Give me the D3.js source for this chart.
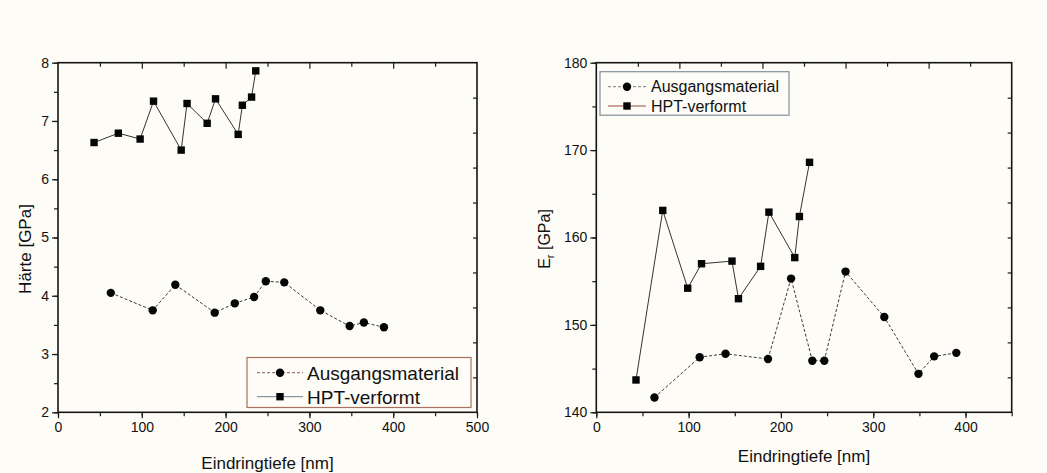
<!DOCTYPE html>
<html>
<head>
<meta charset="utf-8">
<script src="https://cdn.jsdelivr.net/npm/d3@7"></script>
<style>
  body { margin: 0; background: #fefcf6; }
  svg { display: block; font-family: "Liberation Sans", Arial, sans-serif; }
</style>
</head>
<body>
<div id="chart"></div>
<script>
// data
// Härte (left panel)
let depthAusL = [63, 113, 140, 187, 211, 234, 248, 270, 313, 348, 365, 389];
let haerteAus = [4.05, 3.75, 4.19, 3.71, 3.87, 3.98, 4.25, 4.23, 3.75, 3.48, 3.54, 3.46];
let depthHptL = [43, 72, 98, 114, 147, 154, 178, 188, 215, 220, 231, 236];
let haerteHpt = [6.63, 6.79, 6.69, 7.34, 6.50, 7.30, 6.96, 7.38, 6.77, 7.27, 7.41, 7.86];

// E_r (right panel)
let depthAusR = [63, 112, 140, 186, 211, 234, 247, 270, 312, 349, 366, 390];
let erAus = [141.7, 146.3, 146.7, 146.1, 155.3, 145.9, 145.9, 156.1, 150.9, 144.4, 146.4, 146.8];
let depthHptR = [43, 72, 99, 114, 147, 154, 178, 187, 215, 220, 231];
let erHpt = [143.7, 163.1, 154.2, 157.0, 157.3, 153.0, 156.7, 162.9, 157.7, 162.4, 168.6];

let seriesNames = ["Ausgangsmaterial", "HPT-verformt"];
let xTitle = "Eindringtiefe [nm]";

let svgWidth = 1047;
let svgHeight = 473;

let svg = d3.select("#chart")
    .append("svg")
    .attr("width", svgWidth)
    .attr("height", svgHeight);

svg.append("rect")
    .attr("width", svgWidth)
    .attr("height", svgHeight)
    .attr("fill", "#fefcf6");

// draws one Origin-style panel
function drawPanel(opt) {
    let w = opt.x1 - opt.x0;
    let h = opt.y1 - opt.y0;
    let g = svg.append("g").attr("transform", `translate(${opt.x0}, ${opt.y0})`);

    let x = d3.scaleLinear().domain(opt.xDomain).range([0, w]);
    let y = d3.scaleLinear().domain(opt.yDomain).range([h, 0]);

    // minor ticks (no labels)
    let xMinor = d3.range(opt.xDomain[0], opt.xDomain[1] + 0.001, opt.xStep / 2);
    let yMinor = d3.range(opt.yDomain[0], opt.yDomain[1] + 0.001, opt.yStep / 2);

    g.append("g")
        .attr("transform", `translate(0, ${h})`)
        .call(d3.axisBottom(x).tickValues(xMinor).tickSize(4).tickFormat(""));
    g.append("g")
        .call(d3.axisLeft(y).tickValues(yMinor).tickSize(4).tickFormat(""));

    // major ticks
    let xMajor = d3.range(opt.xDomain[0], opt.xTickMax + 0.001, opt.xStep);
    let yMajor = d3.range(opt.yDomain[0], opt.yDomain[1] + 0.001, opt.yStep);

    g.append("g")
        .attr("class", "bottom")
        .attr("transform", `translate(0, ${h})`)
        .call(d3.axisBottom(x).tickValues(xMajor).tickSize(6).tickPadding(4).tickFormat(d3.format("d")));
    g.append("g")
        .attr("class", "left")
        .call(d3.axisLeft(y).tickValues(yMajor).tickSize(6).tickPadding(3).tickFormat(d3.format("d")));

    // top axis: 10 intervals, inward ticks
    let xTop = d3.scaleLinear().domain([0, 500]).range([0, w]);
    g.append("g")
        .call(d3.axisBottom(xTop).tickValues(d3.range(50, 500, 100)).tickSize(4).tickFormat(""));
    g.append("g")
        .call(d3.axisBottom(xTop).tickValues(d3.range(100, 500, 100)).tickSize(6).tickFormat(""));

    // right axis: 10 intervals, inward ticks
    let yRight = d3.scaleLinear().domain([0, 10]).range([h, 0]);
    g.append("g")
        .attr("transform", `translate(${w}, 0)`)
        .call(d3.axisLeft(yRight).tickValues(d3.range(1, 10)).tickSize(4).tickFormat(""));

    g.selectAll(".domain").remove();
    g.selectAll(".tick line").attr("stroke", "#1a1a1a").attr("stroke-width", 1.2);
    g.selectAll(".tick text")
        .attr("fill", "#111")
        .style("font-size", "14px");

    // frame
    g.append("rect")
        .attr("width", w)
        .attr("height", h)
        .attr("fill", "none")
        .attr("stroke", "#141414")
        .attr("stroke-width", 1.6);

    // data
    let line = d3.line().x(d => x(d[0])).y(d => y(d[1]));
    let aus = d3.zip(opt.ausX, opt.ausY);
    let hpt = d3.zip(opt.hptX, opt.hptY);

    g.append("path")
        .datum(aus)
        .attr("d", line)
        .attr("fill", "none")
        .attr("stroke", "#3a3a3a")
        .attr("stroke-width", 1)
        .attr("stroke-dasharray", "3,2");
    g.append("path")
        .datum(hpt)
        .attr("d", line)
        .attr("fill", "none")
        .attr("stroke", "#333")
        .attr("stroke-width", 1);

    g.selectAll(".dot")
        .data(aus)
        .enter()
        .append("circle")
        .attr("cx", d => x(d[0]))
        .attr("cy", d => y(d[1]))
        .attr("r", 4.2)
        .attr("fill", "#050505");
    let s = 7.4;
    g.selectAll(".sq")
        .data(hpt)
        .enter()
        .append("rect")
        .attr("x", d => x(d[0]) - s / 2)
        .attr("y", d => y(d[1]) - s / 2)
        .attr("width", s)
        .attr("height", s)
        .attr("fill", "#050505");

    // x title
    svg.append("text")
        .attr("x", opt.x0 + w / 2)
        .attr("y", opt.xTitleY)
        .attr("text-anchor", "middle")
        .attr("fill", "#111")
        .style("font-size", "17px")
        .text(xTitle);

    // legend
    let L = opt.legend;
    let lg = svg.append("g");
    lg.append("rect")
        .attr("x", L.x).attr("y", L.y)
        .attr("width", L.w).attr("height", L.h)
        .attr("fill", "#fefcf6")
        .attr("stroke", L.border)
        .attr("stroke-width", 1.2);
    L.rows.forEach(function(ry, i) {
        lg.append("line")
            .attr("x1", L.lx0).attr("x2", L.lx1)
            .attr("y1", ry).attr("y2", ry)
            .attr("stroke", L.lineColors[i])
            .attr("stroke-width", 1)
            .attr("stroke-dasharray", i == 0 ? "3,2" : null);
        let mx = (L.lx0 + L.lx1) / 2;
        if (i == 0) {
            lg.append("circle").attr("cx", mx).attr("cy", ry).attr("r", 4.2).attr("fill", "#050505");
        } else {
            lg.append("rect").attr("x", mx - 3.7).attr("y", ry - 3.7)
                .attr("width", 7.4).attr("height", 7.4).attr("fill", "#050505");
        }
        lg.append("text")
            .attr("x", L.tx)
            .attr("y", ry)
            .attr("dy", "0.36em")
            .attr("fill", "#111")
            .style("font-size", L.fontSize + "px")
            .text(seriesNames[i]);
    });
}

drawPanel({
    x0: 58, x1: 477, y0: 62.7, y1: 412.3,
    xDomain: [0, 500], xTickMax: 500, xStep: 100,
    yDomain: [2, 8], yStep: 1,
    ausX: depthAusL, ausY: haerteAus,
    hptX: depthHptL, hptY: haerteHpt,
    xTitleY: 469,
    legend: {
        x: 247, y: 357.5, w: 224, h: 50,
        rows: [372.7, 396.7],
        lx0: 257, lx1: 303, tx: 307,
        fontSize: 19,
        border: "#a8705e",
        lineColors: ["#8a5a50", "#6a7f95"]
    }
});

drawPanel({
    x0: 596.3, x1: 1011.7, y0: 62.7, y1: 412.3,
    xDomain: [0, 450], xTickMax: 400, xStep: 100,
    yDomain: [140, 180], yStep: 10,
    ausX: depthAusR, ausY: erAus,
    hptX: depthHptR, hptY: erHpt,
    xTitleY: 462,
    legend: {
        x: 600, y: 71.7, w: 189, h: 43.5,
        rows: [86.7, 106],
        lx0: 608, lx1: 646, tx: 651,
        fontSize: 16,
        border: "#7f8fa0",
        lineColors: ["#7a7a7a", "#9a4a3a"]
    }
});

// y titles
svg.append("text")
    .attr("transform", "translate(31, 249) rotate(-90)")
    .attr("text-anchor", "middle")
    .attr("fill", "#111")
    .style("font-size", "17px")
    .text("Härte [GPa]");

let erTitle = svg.append("text")
    .attr("transform", "translate(550, 239) rotate(-90)")
    .attr("text-anchor", "middle")
    .attr("fill", "#111")
    .style("font-size", "16px");
erTitle.append("tspan").text("E");
erTitle.append("tspan").attr("dy", 4).style("font-size", "11px").text("r");
erTitle.append("tspan").attr("dy", -4).text(" [GPa]");
</script>
</body>
</html>
